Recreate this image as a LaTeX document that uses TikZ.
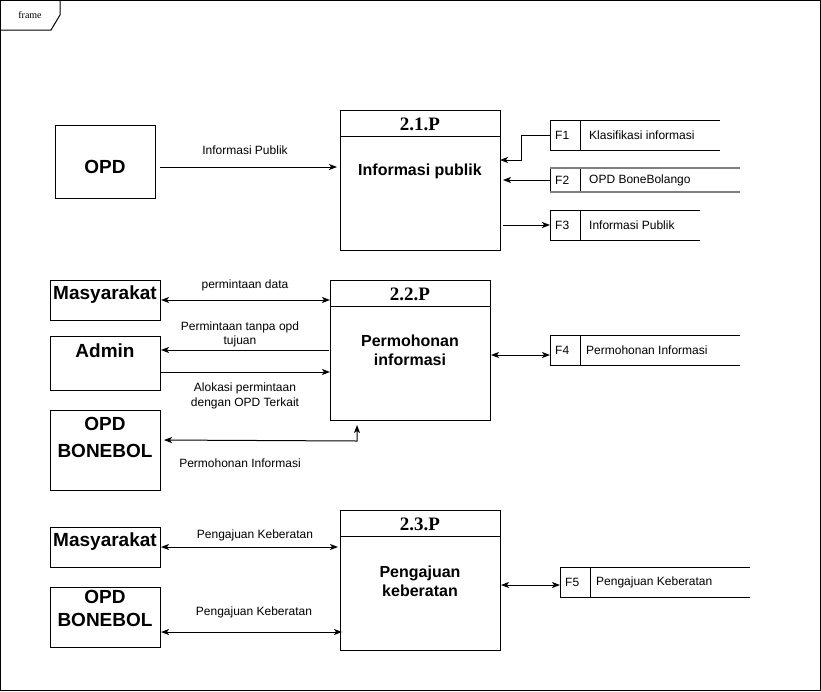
\documentclass[tikz,border=0pt]{standalone}
\usepackage{fontspec}
\setmainfont{Liberation Serif}
\newfontfamily\arial{Liberation Sans}
\usetikzlibrary{arrows.meta,calc}
\begin{document}
\begin{tikzpicture}[x=1pt,y=-1pt,
 box/.style={draw,line width=1pt,inner sep=0,outer sep=0},
 lbl/.style={font=\arial\fontsize{12}{14}\selectfont,inner sep=0,align=center},
 big/.style={font=\arial\bfseries\fontsize{19}{22}\selectfont,inner sep=0,align=center},
 ptitle/.style={font=\bfseries\fontsize{19}{22}\selectfont,inner sep=0},
 pbody/.style={font=\arial\bfseries\fontsize{16}{19}\selectfont,inner sep=0,align=center},
 tip/.tip={Stealth[length=8pt,width=6pt,inset=2pt]},
 arr/.style={line width=1pt,-tip},
 darr/.style={line width=1pt,tip-tip},
 ln/.style={line width=1pt}]
\useasboundingbox (0,0) rectangle (821,691);
% frame
\draw[ln] (0.5,0.5) rectangle (820.5,690.5);
\draw[ln] (0.5,30) -- (51,30) -- (60,15) -- (60,0.5);
\node[font=\fontsize{10}{12}\selectfont,inner sep=0] (frm) at (30,15) {frame};

% ---------- 2.1.P ----------
\node[box,minimum width=100,minimum height=73,anchor=north west] (opd) at (55,125) {};
\node[big] (opdt) at (105,166.5) {OPD};
\node[box,minimum width=160,minimum height=140,anchor=north west] (p21) at (340,110) {};
\draw[ln] (p21.west |- 0,136) -- (p21.east |- 0,136);
\node[ptitle] (t21) at (420,124) {2.1.P};
\node[pbody] (b21) at (420,171) {Informasi publik};
\draw[arr,shorten <=5pt,shorten >=3pt] (opd.east |- 0,167) -- (p21.west |- 0,167);
\node[lbl] (l1) at (245,150) {Informasi Publik};

% F1
\node[box,minimum width=30,minimum height=30,anchor=north west] (f1) at (550,120) {};
\draw[ln] (f1.north east) -- ++(140,0);
\draw[ln] (f1.south east) -- ++(140,0);
\node[lbl,anchor=west] (f1a) at (555,135) {F1};
\node[lbl,anchor=west] (f1b) at (589,135) {Klasifikasi informasi};
\draw[arr] (f1.west) -- ++(-29,0) |- (p21.east |- 0,160);
% F2
\node[minimum width=30,minimum height=24,inner sep=0,outer sep=0,anchor=north west] (f2) at (550,168) {};
\draw[ln] (f2.north west) -- (f2.south west);
\draw[ln] (f2.north east) -- (f2.south east);
\draw[line width=1.6pt,gray] (f2.north west) -- ++(190,0);
\draw[line width=1.6pt,gray] (f2.south west) -- ++(190,0);
\node[lbl,anchor=west] (f2a) at (555,180) {F2};
\node[lbl,anchor=west] (f2b) at (589,180) {OPD BoneBolango};
\draw[arr,shorten >=3pt] (f2.west) -- (p21.east |- f2.west);
% F3
\node[box,minimum width=30,minimum height=30,anchor=north west] (f3) at (550,210) {};
\draw[ln] (f3.north east) -- ++(120,0);
\draw[ln] (f3.south east) -- ++(120,0);
\node[lbl,anchor=west] (f3a) at (555,225) {F3};
\node[lbl,anchor=west] (f3b) at (589,225) {Informasi Publik};
\draw[arr,shorten <=3pt] (p21.east |- f3.west) -- (f3.west);

% ---------- 2.2.P ----------
\node[box,minimum width=160,minimum height=140,anchor=north west] (p22) at (330,280) {};
\draw[ln] (p22.west |- 0,306) -- (p22.east |- 0,306);
\node[ptitle] (t22) at (410,294) {2.2.P};
\node[pbody] (b22) at (410,350.5) {Permohonan\\informasi};

\node[box,minimum width=110,minimum height=40,anchor=north west] (mas1) at (50,280) {};
\node[big] (mas1t) at (105,295) {Masyarakat};
\node[box,minimum width=110,minimum height=54,anchor=north west] (adm) at (50,336) {};
\node[big] (admt) at (105,351) {Admin};
\node[box,minimum width=110,minimum height=80,anchor=north west] (bon1) at (50,410) {};
\node[big,font=\arial\bfseries\fontsize{19}{27}\selectfont] (bon1t) at (105,437.5) {OPD\\BONEBOL};

\draw[darr,shorten <=1pt] (mas1.east |- 0,300) -- (p22.west |- 0,300);
\node[lbl] (l2) at (245,285) {permintaan data};
\draw[arr,shorten <=1pt,shorten >=1pt] (p22.west |- 0,350) -- (adm.east |- 0,350);
\node[lbl,font=\arial\fontsize{12}{14}\selectfont] (l3) at (240,334) {Permintaan tanpa opd\\tujuan};
\draw[arr,shorten <=1pt] (adm.east |- 0,372) -- (p22.west |- 0,372);
\node[lbl,font=\arial\fontsize{12}{15}\selectfont] (l4) at (245,395.5) {Alokasi permintaan\\dengan OPD Terkait};
\coordinate (bend) at (357,441);
\draw[darr,shorten <=4pt,shorten >=5pt] (bon1.east |- 0,440) -- (bend) -- (bend |- p22.south);
\node[lbl] (l5) at (240,463) {Permohonan Informasi};

% F4
\node[box,minimum width=30,minimum height=30,anchor=north west] (f4) at (550,335) {};
\draw[ln] (f4.north east) -- ++(160,0);
\draw[ln] (f4.south east) -- ++(160,0);
\node[lbl,anchor=west] (f4a) at (555,350) {F4};
\node[lbl,anchor=west] (f4b) at (586,350) {Permohonan Informasi};
\draw[darr,shorten <=1pt] (p22.east |- 0,355) -- (f4.west |- 0,355);

% ---------- 2.3.P ----------
\node[box,minimum width=160,minimum height=140,anchor=north west] (p23) at (340,510) {};
\draw[ln] (p23.west |- 0,536) -- (p23.east |- 0,536);
\node[ptitle] (t23) at (420,524) {2.3.P};
\node[pbody] (b23) at (420,581) {Pengajuan\\keberatan};

\node[box,minimum width=110,minimum height=40,anchor=north west] (mas2) at (50,527) {};
\node[big] (mas2t) at (105,542) {Masyarakat};
\node[box,minimum width=110,minimum height=60,anchor=north west] (bon2) at (50,587) {};
\node[big,font=\arial\bfseries\fontsize{19}{23}\selectfont] (bon2t) at (105,608.5) {OPD\\BONEBOL};

\draw[darr,shorten <=1pt,shorten >=2pt] (mas2.east |- 0,547) -- (p23.west |- 0,547);
\node[lbl] (l6) at (255,535) {Pengajuan Keberatan};
\draw[darr,shorten <=1pt,shorten >=-2pt] (bon2.east |- 0,632) -- (p23.west |- 0,632);
\node[lbl] (l7) at (254,612) {Pengajuan Keberatan};

% F5
\node[box,minimum width=30,minimum height=30,anchor=north west] (f5) at (560,567) {};
\draw[ln] (f5.north east) -- ++(160,0);
\draw[ln] (f5.south east) -- ++(160,0);
\node[lbl,anchor=west] (f5a) at (565,582) {F5};
\node[lbl,anchor=west] (f5b) at (596,582) {Pengajuan Keberatan};
\draw[darr,shorten <=1pt] (p23.east |- 0,585) -- (f5.west |- 0,585);
\end{tikzpicture}
\end{document}
